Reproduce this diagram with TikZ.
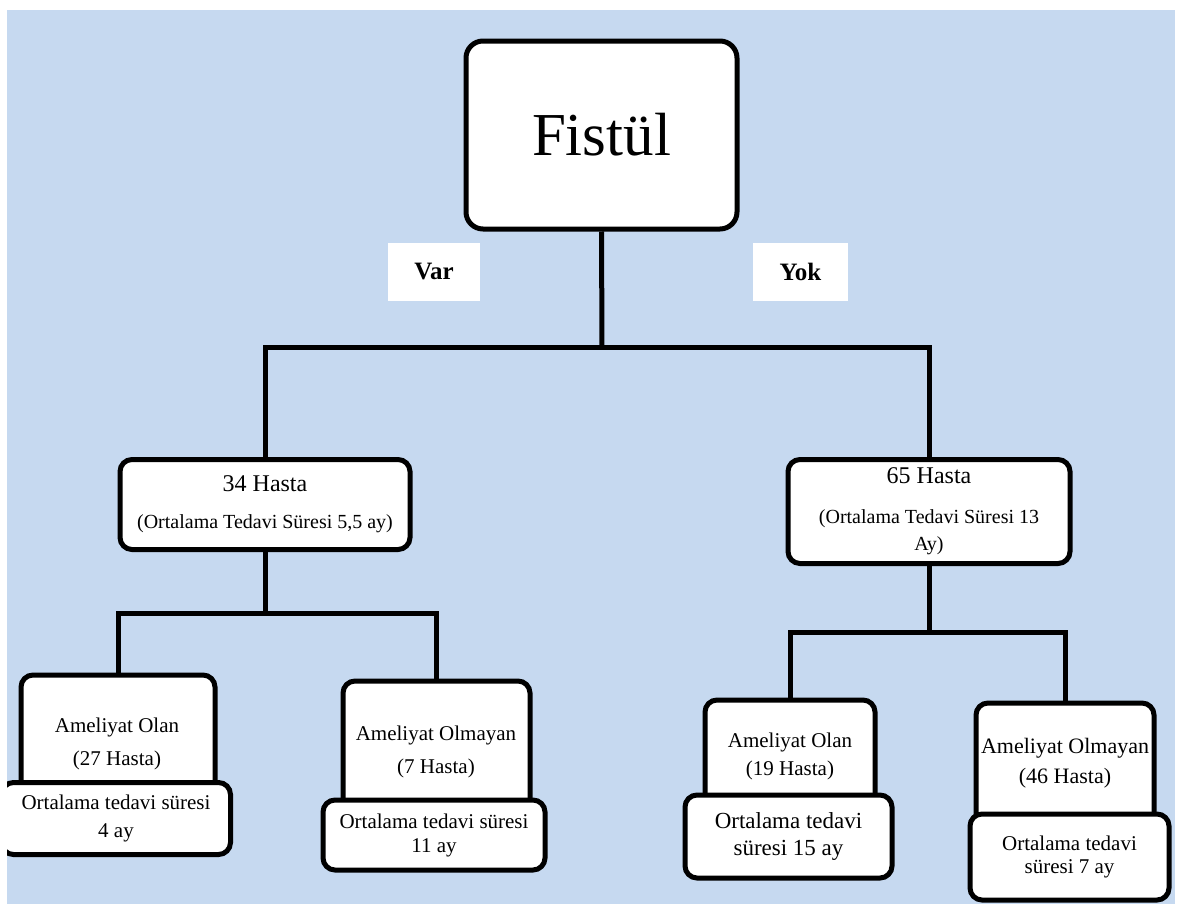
\documentclass[tikz,border=0pt]{standalone}
\usepackage{fontspec}
\setmainfont{Liberation Serif}
\usetikzlibrary{positioning}
\definecolor{bgblue}{HTML}{C6D9F0}
\newcommand{\altyazi}{\fontsize{20}{24}\selectfont}

\tikzset{
    kutu/.style={draw=black, line width=5pt, fill=white, rounded corners=12pt,
        inner sep=0pt, align=center},
    etiket/.style={fill=white, inner sep=0pt,
        font=\bfseries\fontsize{25}{30}\selectfont},
    yazi/.style={align=center, inner sep=0pt, font=\fontsize{21}{29}\selectfont},
    cizgi/.style={line width=5pt}
}

\begin{document}
\begin{tikzpicture}[x=1pt,y=-1pt]
    \useasboundingbox (0,0) rectangle (1179,905);
    \fill[bgblue] (7,10) rectangle (1175,904);
    \begin{scope}
    \clip (7,10) rectangle (1175,904);

    % ust kutu
    \node[kutu, rounded corners=17pt, minimum width=271pt, minimum height=188pt,
        font=\fontsize{61}{61}\selectfont] (fistul) at (601.5,135) {Fistül};
    \node[etiket, minimum width=92pt, minimum height=58pt] (var) at (434,272) {Var};
    \node[etiket, minimum width=95pt, minimum height=58pt] (yok) at (800.5,272) {Yok};

    % ikinci seviye
    \node[kutu, minimum width=290pt, minimum height=90pt,
        font=\fontsize{24}{30}\selectfont] (h34) at (265,504.5)
        {34 Hasta\\[7pt]{\altyazi (Ortalama Tedavi Süresi 5,5 ay)}};
    \node[kutu, minimum width=282pt, minimum height=104pt,
        font=\fontsize{24}{30}\selectfont] (h65) at (929,511.5)
        {65 Hasta\\[10pt]{\altyazi (Ortalama Tedavi Süresi 13}\\[-3pt]{\altyazi Ay)}};

    % ameliyat kutulari
    \node[kutu, minimum width=194pt, minimum height=122pt] (a1) at (118,736) {};
    \node[yazi] (t1) at (117,744) {Ameliyat Olan\\[4pt](27 Hasta)};
    \node[kutu, yazi, minimum width=229pt, minimum height=72pt] (b1) at (116,818.5)
        {Ortalama tedavi süresi\\[-1pt]4 ay};

    \node[kutu, minimum width=187pt, minimum height=131pt] (a2) at (436.5,746.5) {};
    \node[yazi] (t2) at (436,752) {Ameliyat Olmayan\\[4pt](7 Hasta)};
    \node[kutu, yazi, minimum width=222pt, minimum height=70pt] (b2) at (434,835)
        {Ortalama tedavi süresi\\[-5pt]11 ay};

    \node[kutu, minimum width=170pt, minimum height=107pt] (a3) at (790,753.5) {};
    \node[yazi] (t3) at (790,756) {Ameliyat Olan\\[-1pt](19 Hasta)};
    \node[kutu, yazi, minimum width=207pt, minimum height=83pt,
        font=\fontsize{23}{27}\selectfont] (b3) at (788.5,836.5)
        {Ortalama tedavi\\süresi 15 ay};

    \node[kutu, minimum width=178pt, minimum height=124pt] (a4) at (1065,765) {};
    \node[yazi, font=\fontsize{22}{30}\selectfont] (t4) at (1065,763)
        {Ameliyat Olmayan\\(46 Hasta)};
    \node[kutu, yazi, minimum width=199pt, minimum height=86pt] (b4) at (1069.5,857)
        {Ortalama tedavi\\[-6pt]süresi 7 ay};

    % baglantilar
    \coordinate (k1) at (602,347);
    \draw[cizgi] (fistul.south) -- (k1);
    \draw[cizgi] (h34.north) |- (k1) -| (h65.north);
    \coordinate (k2) at (265,613);
    \draw[cizgi] (h34.south) -- (k2);
    \draw[cizgi] (a1.north) |- (k2) -| (a2.north);
    \coordinate (k3) at (929,632);
    \draw[cizgi] (h65.south) -- (k3);
    \draw[cizgi] (a3.north) |- (k3) -| (a4.north);
    \end{scope}
\end{tikzpicture}
\end{document}
